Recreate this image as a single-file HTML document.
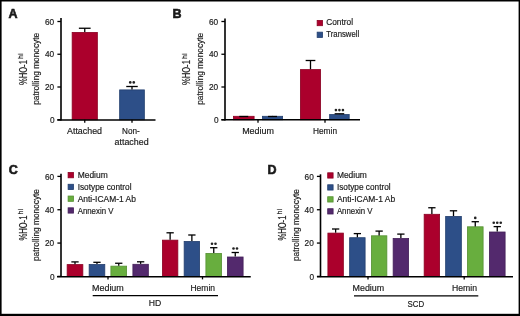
<!DOCTYPE html>
<html><head><meta charset="utf-8"><style>
html,body{margin:0;padding:0;background:#fff;}
body{width:520px;height:316px;overflow:hidden;position:relative;}
svg{position:absolute;left:0;top:0;}
text{font-family:"Liberation Sans",sans-serif;fill:#1a1a1a;stroke:#1a1a1a;stroke-width:0.18px;}
svg{will-change:transform;}
.frame{position:absolute;left:0;top:0;width:520px;height:316px;box-sizing:border-box;border-style:solid;border-color:#000;border-width:1px 2px 2px 1.5px;}
</style></head><body>
<svg width="520" height="316" viewBox="0 0 520 316">
<text x="8.4" y="18.2" text-anchor="start" font-size="12.5" font-weight="bold" style="stroke-width:0.6px">A</text>
<g transform="translate(39.4,68.8) rotate(-90)"><text x="0" y="0" text-anchor="middle" font-size="8.7" textLength="72" lengthAdjust="spacingAndGlyphs">patrolling monocyte</text></g>
<g transform="translate(26.6,68.8) rotate(-90)"><text x="-3.8" y="0" text-anchor="middle" font-size="10" textLength="25" lengthAdjust="spacingAndGlyphs">%HO-1</text><text x="9.9" y="-3.7" font-size="7.2" textLength="5.6" lengthAdjust="spacingAndGlyphs">hi</text></g>
<line x1="57.4" y1="119.75" x2="61" y2="119.75" stroke="#000" stroke-width="1.3"/>
<text x="54.6" y="122.85" text-anchor="end" font-size="8.7" textLength="4.6" lengthAdjust="spacingAndGlyphs">0</text>
<line x1="57.4" y1="87.0" x2="61" y2="87.0" stroke="#000" stroke-width="1.3"/>
<text x="54.2" y="90.1" text-anchor="end" font-size="8.7" textLength="9.2" lengthAdjust="spacingAndGlyphs">20</text>
<line x1="57.4" y1="54.25" x2="61" y2="54.25" stroke="#000" stroke-width="1.3"/>
<text x="54.2" y="57.35" text-anchor="end" font-size="8.7" textLength="9.2" lengthAdjust="spacingAndGlyphs">40</text>
<line x1="57.4" y1="21.5" x2="61" y2="21.5" stroke="#000" stroke-width="1.3"/>
<text x="54.2" y="24.6" text-anchor="end" font-size="8.7" textLength="9.2" lengthAdjust="spacingAndGlyphs">60</text>
<rect x="72.15" y="32.4" width="25.2" height="87.35" fill="#ab002c" stroke="#8a0022" stroke-width="0.8"/>
<line x1="84.75" y1="32" x2="84.75" y2="28.25" stroke="#000" stroke-width="1.3"/>
<line x1="78.875" y1="28.25" x2="90.625" y2="28.25" stroke="#000" stroke-width="1.3"/>
<rect x="119.65" y="89.9" width="24.7" height="29.85" fill="#2d4f88" stroke="#233f6e" stroke-width="0.8"/>
<line x1="132.0" y1="89.5" x2="132.0" y2="86.5" stroke="#000" stroke-width="1.3"/>
<line x1="126.25" y1="86.5" x2="137.75" y2="86.5" stroke="#000" stroke-width="1.3"/>
<circle cx="130.25" cy="82.40" r="1.3" fill="#222"/>
<circle cx="133.75" cy="82.40" r="1.3" fill="#222"/>
<line x1="84.75" y1="119.75" x2="84.75" y2="122.75" stroke="#000" stroke-width="1.3"/>
<line x1="132" y1="119.75" x2="132" y2="122.75" stroke="#000" stroke-width="1.3"/>
<text x="84.5" y="134" text-anchor="middle" font-size="8.7" textLength="35" lengthAdjust="spacingAndGlyphs">Attached</text>
<text x="130.9" y="134" text-anchor="middle" font-size="8.7" textLength="17.7" lengthAdjust="spacingAndGlyphs">Non-</text>
<text x="131.6" y="144.6" text-anchor="middle" font-size="8.7" textLength="34" lengthAdjust="spacingAndGlyphs">attached</text>
<text x="172.5" y="18" text-anchor="start" font-size="12.5" font-weight="bold" style="stroke-width:0.6px">B</text>
<g transform="translate(203.1,68.8) rotate(-90)"><text x="0" y="0" text-anchor="middle" font-size="8.7" textLength="72" lengthAdjust="spacingAndGlyphs">patrolling monocyte</text></g>
<g transform="translate(190.3,68.8) rotate(-90)"><text x="-3.8" y="0" text-anchor="middle" font-size="10" textLength="25" lengthAdjust="spacingAndGlyphs">%HO-1</text><text x="9.9" y="-3.7" font-size="7.2" textLength="5.6" lengthAdjust="spacingAndGlyphs">hi</text></g>
<line x1="221.4" y1="119.75" x2="225" y2="119.75" stroke="#000" stroke-width="1.3"/>
<text x="218.6" y="122.85" text-anchor="end" font-size="8.7" textLength="4.6" lengthAdjust="spacingAndGlyphs">0</text>
<line x1="221.4" y1="87.0" x2="225" y2="87.0" stroke="#000" stroke-width="1.3"/>
<text x="218.2" y="90.1" text-anchor="end" font-size="8.7" textLength="9.2" lengthAdjust="spacingAndGlyphs">20</text>
<line x1="221.4" y1="54.25" x2="225" y2="54.25" stroke="#000" stroke-width="1.3"/>
<text x="218.2" y="57.35" text-anchor="end" font-size="8.7" textLength="9.2" lengthAdjust="spacingAndGlyphs">40</text>
<line x1="221.4" y1="21.5" x2="225" y2="21.5" stroke="#000" stroke-width="1.3"/>
<text x="218.2" y="24.6" text-anchor="end" font-size="8.7" textLength="9.2" lengthAdjust="spacingAndGlyphs">60</text>
<rect x="233.4" y="116.30000000000001" width="20.7" height="3.4499999999999944" fill="#ab002c" stroke="#8a0022" stroke-width="0.8"/>
<line x1="243.75" y1="115.9" x2="243.75" y2="116.5" stroke="#000" stroke-width="1.3"/>
<line x1="239.25" y1="116.5" x2="248.25" y2="116.5" stroke="#000" stroke-width="1.3"/>
<rect x="262.4" y="116.30000000000001" width="20.2" height="3.4499999999999944" fill="#2d4f88" stroke="#233f6e" stroke-width="0.8"/>
<line x1="272.5" y1="115.9" x2="272.5" y2="116.5" stroke="#000" stroke-width="1.3"/>
<line x1="268.0" y1="116.5" x2="277.0" y2="116.5" stroke="#000" stroke-width="1.3"/>
<rect x="300.4" y="69.60000000000001" width="20.2" height="50.15" fill="#ab002c" stroke="#8a0022" stroke-width="0.8"/>
<line x1="310.5" y1="69.2" x2="310.5" y2="60.5" stroke="#000" stroke-width="1.3"/>
<line x1="305.65" y1="60.5" x2="315.35" y2="60.5" stroke="#000" stroke-width="1.3"/>
<rect x="329.65" y="114.5" width="19.550000000000022" height="5.250000000000005" fill="#2d4f88" stroke="#233f6e" stroke-width="0.8"/>
<line x1="339.425" y1="114.1" x2="339.425" y2="113.8" stroke="#000" stroke-width="1.3"/>
<line x1="334.625" y1="113.8" x2="344.225" y2="113.8" stroke="#000" stroke-width="1.3"/>
<circle cx="335.93" cy="110.10" r="1.3" fill="#222"/>
<circle cx="339.43" cy="110.10" r="1.3" fill="#222"/>
<circle cx="342.93" cy="110.10" r="1.3" fill="#222"/>
<line x1="258" y1="119.75" x2="258" y2="122.75" stroke="#000" stroke-width="1.3"/>
<line x1="325" y1="119.75" x2="325" y2="122.75" stroke="#000" stroke-width="1.3"/>
<text x="258" y="134.3" text-anchor="middle" font-size="8.7" textLength="31.75" lengthAdjust="spacingAndGlyphs">Medium</text>
<text x="325" y="133.75" text-anchor="middle" font-size="8.7" textLength="24" lengthAdjust="spacingAndGlyphs">Hemin</text>
<rect x="317.15" y="20.4" width="5.4" height="5.3" fill="#ab002c" stroke="#8a0022" stroke-width="0.8"/>
<rect x="317.15" y="32.15" width="5.4" height="5.3" fill="#2d4f88" stroke="#233f6e" stroke-width="0.8"/>
<text x="326.25" y="24.9" text-anchor="start" font-size="8.7" textLength="26.75" lengthAdjust="spacingAndGlyphs">Control</text>
<text x="326.25" y="36.6" text-anchor="start" font-size="8.7" textLength="33" lengthAdjust="spacingAndGlyphs">Transwell</text>
<text x="8.75" y="173.75" text-anchor="start" font-size="12.5" font-weight="bold" style="stroke-width:0.6px">C</text>
<g transform="translate(39.4,225.0) rotate(-90)"><text x="0" y="0" text-anchor="middle" font-size="8.7" textLength="72" lengthAdjust="spacingAndGlyphs">patrolling monocyte</text></g>
<g transform="translate(26.6,224.3) rotate(-90)"><text x="-3.8" y="0" text-anchor="middle" font-size="10" textLength="25" lengthAdjust="spacingAndGlyphs">%HO-1</text><text x="9.9" y="-3.7" font-size="7.2" textLength="5.6" lengthAdjust="spacingAndGlyphs">hi</text></g>
<line x1="57.4" y1="276.4" x2="61" y2="276.4" stroke="#000" stroke-width="1.3"/>
<text x="54.6" y="279.5" text-anchor="end" font-size="8.7" textLength="4.6" lengthAdjust="spacingAndGlyphs">0</text>
<line x1="57.4" y1="243.06666666666663" x2="61" y2="243.06666666666663" stroke="#000" stroke-width="1.3"/>
<text x="54.2" y="246.16666666666663" text-anchor="end" font-size="8.7" textLength="9.2" lengthAdjust="spacingAndGlyphs">20</text>
<line x1="57.4" y1="209.7333333333333" x2="61" y2="209.7333333333333" stroke="#000" stroke-width="1.3"/>
<text x="54.2" y="212.8333333333333" text-anchor="end" font-size="8.7" textLength="9.2" lengthAdjust="spacingAndGlyphs">40</text>
<line x1="57.4" y1="176.39999999999998" x2="61" y2="176.39999999999998" stroke="#000" stroke-width="1.3"/>
<text x="54.2" y="179.49999999999997" text-anchor="end" font-size="8.7" textLength="9.2" lengthAdjust="spacingAndGlyphs">60</text>
<rect x="67.15" y="264.59999999999997" width="15.7" height="11.799999999999988" fill="#ab002c" stroke="#8a0022" stroke-width="0.8"/>
<line x1="75.0" y1="264.2" x2="75.0" y2="261.9" stroke="#000" stroke-width="1.3"/>
<line x1="71.35" y1="261.9" x2="78.65" y2="261.9" stroke="#000" stroke-width="1.3"/>
<rect x="89.15" y="264.5" width="15.650000000000002" height="11.899999999999954" fill="#2d4f88" stroke="#233f6e" stroke-width="0.8"/>
<line x1="96.975" y1="264.1" x2="96.975" y2="262.3" stroke="#000" stroke-width="1.3"/>
<line x1="93.32499999999999" y1="262.3" x2="100.625" y2="262.3" stroke="#000" stroke-width="1.3"/>
<rect x="110.9" y="266.15" width="15.7" height="10.249999999999977" fill="#68ae3e" stroke="#559032" stroke-width="0.8"/>
<line x1="118.75" y1="265.75" x2="118.75" y2="263.25" stroke="#000" stroke-width="1.3"/>
<line x1="115.1" y1="263.25" x2="122.4" y2="263.25" stroke="#000" stroke-width="1.3"/>
<rect x="132.9" y="264.29999999999995" width="15.45" height="12.1" fill="#53296d" stroke="#431f58" stroke-width="0.8"/>
<line x1="140.625" y1="263.9" x2="140.625" y2="261.8" stroke="#000" stroke-width="1.3"/>
<line x1="136.975" y1="261.8" x2="144.275" y2="261.8" stroke="#000" stroke-width="1.3"/>
<rect x="162.4" y="240.15" width="15.45" height="36.24999999999998" fill="#ab002c" stroke="#8a0022" stroke-width="0.8"/>
<line x1="170.125" y1="239.75" x2="170.125" y2="232.8" stroke="#000" stroke-width="1.3"/>
<line x1="166.475" y1="232.8" x2="173.775" y2="232.8" stroke="#000" stroke-width="1.3"/>
<rect x="184.15" y="241.4" width="15.45" height="34.99999999999998" fill="#2d4f88" stroke="#233f6e" stroke-width="0.8"/>
<line x1="191.875" y1="241" x2="191.875" y2="235" stroke="#000" stroke-width="1.3"/>
<line x1="188.225" y1="235" x2="195.525" y2="235" stroke="#000" stroke-width="1.3"/>
<rect x="205.9" y="253.4" width="15.7" height="22.99999999999998" fill="#68ae3e" stroke="#559032" stroke-width="0.8"/>
<line x1="213.75" y1="253" x2="213.75" y2="247.7" stroke="#000" stroke-width="1.3"/>
<line x1="210.1" y1="247.7" x2="217.4" y2="247.7" stroke="#000" stroke-width="1.3"/>
<circle cx="212.00" cy="243.75" r="1.3" fill="#222"/>
<circle cx="215.50" cy="243.75" r="1.3" fill="#222"/>
<rect x="227.4" y="257.0" width="15.7" height="19.399999999999956" fill="#53296d" stroke="#431f58" stroke-width="0.8"/>
<line x1="235.25" y1="256.6" x2="235.25" y2="252.5" stroke="#000" stroke-width="1.3"/>
<line x1="231.6" y1="252.5" x2="238.9" y2="252.5" stroke="#000" stroke-width="1.3"/>
<circle cx="233.50" cy="248.55" r="1.3" fill="#222"/>
<circle cx="237.00" cy="248.55" r="1.3" fill="#222"/>
<line x1="108" y1="276.4" x2="108" y2="279.4" stroke="#000" stroke-width="1.3"/>
<line x1="202.5" y1="276.4" x2="202.5" y2="279.4" stroke="#000" stroke-width="1.3"/>
<text x="107.9" y="290.5" text-anchor="middle" font-size="8.7" textLength="31.75" lengthAdjust="spacingAndGlyphs">Medium</text>
<text x="202.75" y="290.5" text-anchor="middle" font-size="8.7" textLength="24.5" lengthAdjust="spacingAndGlyphs">Hemin</text>
<line x1="92.7" y1="295.6" x2="218" y2="295.6" stroke="#000" stroke-width="1.3"/>
<text x="155" y="305.9" text-anchor="middle" font-size="8.7" textLength="12.5" lengthAdjust="spacingAndGlyphs">HD</text>
<rect x="68.10000000000001" y="172.5" width="5.4" height="5.3" fill="#ab002c" stroke="#8a0022" stroke-width="0.8"/>
<text x="77.7" y="178.2" text-anchor="start" font-size="8.7" textLength="30" lengthAdjust="spacingAndGlyphs">Medium</text>
<rect x="68.10000000000001" y="184.27" width="5.4" height="5.3" fill="#2d4f88" stroke="#233f6e" stroke-width="0.8"/>
<text x="77.7" y="189.97" text-anchor="start" font-size="8.7" textLength="53.8" lengthAdjust="spacingAndGlyphs">Isotype control</text>
<rect x="68.10000000000001" y="196.04" width="5.4" height="5.3" fill="#68ae3e" stroke="#559032" stroke-width="0.8"/>
<text x="77.7" y="201.73999999999998" text-anchor="start" font-size="8.7" textLength="58.2" lengthAdjust="spacingAndGlyphs">Anti-ICAM-1 Ab</text>
<rect x="68.10000000000001" y="207.81" width="5.4" height="5.3" fill="#53296d" stroke="#431f58" stroke-width="0.8"/>
<text x="77.7" y="213.51" text-anchor="start" font-size="8.7" textLength="35.7" lengthAdjust="spacingAndGlyphs">Annexin V</text>
<text x="267.5" y="173.75" text-anchor="start" font-size="12.5" font-weight="bold" style="stroke-width:0.6px">D</text>
<g transform="translate(298.9,225.0) rotate(-90)"><text x="0" y="0" text-anchor="middle" font-size="8.7" textLength="72" lengthAdjust="spacingAndGlyphs">patrolling monocyte</text></g>
<g transform="translate(286.1,224.3) rotate(-90)"><text x="-3.8" y="0" text-anchor="middle" font-size="10" textLength="25" lengthAdjust="spacingAndGlyphs">%HO-1</text><text x="9.9" y="-3.7" font-size="7.2" textLength="5.6" lengthAdjust="spacingAndGlyphs">hi</text></g>
<line x1="316.9" y1="276.4" x2="320.5" y2="276.4" stroke="#000" stroke-width="1.3"/>
<text x="314.2" y="279.5" text-anchor="end" font-size="8.7" textLength="4.6" lengthAdjust="spacingAndGlyphs">0</text>
<line x1="316.9" y1="243.06666666666663" x2="320.5" y2="243.06666666666663" stroke="#000" stroke-width="1.3"/>
<text x="313.8" y="246.16666666666663" text-anchor="end" font-size="8.7" textLength="9.2" lengthAdjust="spacingAndGlyphs">20</text>
<line x1="316.9" y1="209.7333333333333" x2="320.5" y2="209.7333333333333" stroke="#000" stroke-width="1.3"/>
<text x="313.8" y="212.8333333333333" text-anchor="end" font-size="8.7" textLength="9.2" lengthAdjust="spacingAndGlyphs">40</text>
<line x1="316.9" y1="176.39999999999998" x2="320.5" y2="176.39999999999998" stroke="#000" stroke-width="1.3"/>
<text x="313.8" y="179.49999999999997" text-anchor="end" font-size="8.7" textLength="9.2" lengthAdjust="spacingAndGlyphs">60</text>
<rect x="327.9" y="233.1" width="15.45" height="43.29999999999999" fill="#ab002c" stroke="#8a0022" stroke-width="0.8"/>
<line x1="335.625" y1="232.7" x2="335.625" y2="229" stroke="#000" stroke-width="1.3"/>
<line x1="331.975" y1="229" x2="339.275" y2="229" stroke="#000" stroke-width="1.3"/>
<rect x="349.65" y="237.70000000000002" width="15.45" height="38.69999999999997" fill="#2d4f88" stroke="#233f6e" stroke-width="0.8"/>
<line x1="357.375" y1="237.3" x2="357.375" y2="233.6" stroke="#000" stroke-width="1.3"/>
<line x1="353.725" y1="233.6" x2="361.025" y2="233.6" stroke="#000" stroke-width="1.3"/>
<rect x="371.4" y="235.8" width="15.45" height="40.59999999999997" fill="#68ae3e" stroke="#559032" stroke-width="0.8"/>
<line x1="379.125" y1="235.4" x2="379.125" y2="231.1" stroke="#000" stroke-width="1.3"/>
<line x1="375.475" y1="231.1" x2="382.775" y2="231.1" stroke="#000" stroke-width="1.3"/>
<rect x="393.15" y="238.5" width="15.45" height="37.899999999999984" fill="#53296d" stroke="#431f58" stroke-width="0.8"/>
<line x1="400.875" y1="238.1" x2="400.875" y2="234.1" stroke="#000" stroke-width="1.3"/>
<line x1="397.225" y1="234.1" x2="404.525" y2="234.1" stroke="#000" stroke-width="1.3"/>
<rect x="424.15" y="214.3" width="15.45" height="62.09999999999997" fill="#ab002c" stroke="#8a0022" stroke-width="0.8"/>
<line x1="431.875" y1="213.9" x2="431.875" y2="207.75" stroke="#000" stroke-width="1.3"/>
<line x1="428.225" y1="207.75" x2="435.525" y2="207.75" stroke="#000" stroke-width="1.3"/>
<rect x="445.65" y="216.4" width="15.7" height="59.99999999999998" fill="#2d4f88" stroke="#233f6e" stroke-width="0.8"/>
<line x1="453.5" y1="216" x2="453.5" y2="210.8" stroke="#000" stroke-width="1.3"/>
<line x1="449.85" y1="210.8" x2="457.15" y2="210.8" stroke="#000" stroke-width="1.3"/>
<rect x="467.4" y="226.8" width="15.7" height="49.59999999999997" fill="#68ae3e" stroke="#559032" stroke-width="0.8"/>
<line x1="475.25" y1="226.4" x2="475.25" y2="221.7" stroke="#000" stroke-width="1.3"/>
<line x1="471.6" y1="221.7" x2="478.9" y2="221.7" stroke="#000" stroke-width="1.3"/>
<circle cx="475.25" cy="217.90" r="1.3" fill="#222"/>
<rect x="489.4" y="232.0" width="15.7" height="44.399999999999984" fill="#53296d" stroke="#431f58" stroke-width="0.8"/>
<line x1="497.25" y1="231.6" x2="497.25" y2="226.6" stroke="#000" stroke-width="1.3"/>
<line x1="493.6" y1="226.6" x2="500.9" y2="226.6" stroke="#000" stroke-width="1.3"/>
<circle cx="493.75" cy="222.80" r="1.3" fill="#222"/>
<circle cx="497.25" cy="222.80" r="1.3" fill="#222"/>
<circle cx="500.75" cy="222.80" r="1.3" fill="#222"/>
<line x1="368" y1="276.4" x2="368" y2="279.4" stroke="#000" stroke-width="1.3"/>
<line x1="464.2" y1="276.4" x2="464.2" y2="279.4" stroke="#000" stroke-width="1.3"/>
<text x="368.4" y="290.6" text-anchor="middle" font-size="8.7" textLength="31.6" lengthAdjust="spacingAndGlyphs">Medium</text>
<text x="464.5" y="290.6" text-anchor="middle" font-size="8.7" textLength="25" lengthAdjust="spacingAndGlyphs">Hemin</text>
<line x1="354" y1="295.8" x2="478.3" y2="295.8" stroke="#000" stroke-width="1.3"/>
<text x="415.9" y="307" text-anchor="middle" font-size="8.7" textLength="16.6" lengthAdjust="spacingAndGlyphs">SCD</text>
<rect x="327.7" y="172.8" width="5.4" height="5.3" fill="#ab002c" stroke="#8a0022" stroke-width="0.8"/>
<text x="336.9" y="178.3" text-anchor="start" font-size="8.7" textLength="30" lengthAdjust="spacingAndGlyphs">Medium</text>
<rect x="327.7" y="184.77" width="5.4" height="5.3" fill="#2d4f88" stroke="#233f6e" stroke-width="0.8"/>
<text x="336.9" y="190.27" text-anchor="start" font-size="8.7" textLength="53.8" lengthAdjust="spacingAndGlyphs">Isotype control</text>
<rect x="327.7" y="196.74" width="5.4" height="5.3" fill="#68ae3e" stroke="#559032" stroke-width="0.8"/>
<text x="336.9" y="202.24" text-anchor="start" font-size="8.7" textLength="58.2" lengthAdjust="spacingAndGlyphs">Anti-ICAM-1 Ab</text>
<rect x="327.7" y="208.71" width="5.4" height="5.3" fill="#53296d" stroke="#431f58" stroke-width="0.8"/>
<text x="336.9" y="214.21" text-anchor="start" font-size="8.7" textLength="35.7" lengthAdjust="spacingAndGlyphs">Annexin V</text>
<rect x="0" y="0" width="520" height="1.5" fill="#000"/>
<rect x="0" y="0" width="1.6" height="316" fill="#000"/>
<rect x="518.6" y="0" width="1.4" height="316" fill="#000"/>
<rect x="0" y="313.8" width="520" height="2.2" fill="#000"/>
<line x1="61" y1="18" x2="61" y2="120.45" stroke="#000" stroke-width="1.6"/>
<line x1="57.3" y1="120.05" x2="155.5" y2="120.05" stroke="#000" stroke-width="1.5"/>
<line x1="225" y1="18.5" x2="225" y2="120.45" stroke="#000" stroke-width="1.6"/>
<line x1="221.4" y1="119.85" x2="360" y2="119.85" stroke="#000" stroke-width="1.5"/>
<line x1="61" y1="173.8" x2="61" y2="277.09999999999997" stroke="#000" stroke-width="1.6"/>
<line x1="57" y1="276.79999999999995" x2="250.75" y2="276.79999999999995" stroke="#000" stroke-width="1.6"/>
<line x1="320.5" y1="174.3" x2="320.5" y2="277.09999999999997" stroke="#000" stroke-width="1.6"/>
<line x1="317" y1="276.79999999999995" x2="513" y2="276.79999999999995" stroke="#000" stroke-width="1.6"/>
</svg>

</body></html>
